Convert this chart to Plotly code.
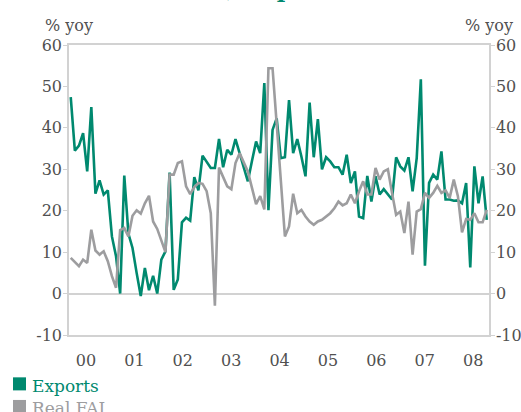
import plotly.graph_objects as go

# monthly yoy growth, Jan 2000 onward
exports = [
    47.4, 34.5, 35.7, 38.7, 29.5, 45.0, 24.1, 27.3, 23.9, 24.9, 13.8, 9.0,
    0.0, 28.5, 14.5, 11.0, 5.0, -0.6, 6.2, 0.8, 4.3, 0.0, 8.2, 10.2,
    29.2, 0.9, 3.4, 17.2, 18.3, 17.6, 28.1, 24.9, 33.3, 31.9, 30.3, 30.3,
    37.3, 30.5, 34.7, 33.5, 37.3, 33.9, 30.7, 27.1, 32.0, 36.7, 33.9, 50.8,
    20.1, 39.5, 42.3, 32.7, 32.9, 46.7, 33.9, 37.3, 33.1, 28.3, 46.1, 32.9,
    42.1, 30.0, 32.9, 31.9, 30.5, 30.5, 28.7, 33.5, 26.7, 29.5, 18.6, 18.2,
    28.4, 22.2, 28.3, 23.9, 25.2, 23.9, 22.7, 32.9, 30.7, 29.7, 32.9, 24.7,
    32.7, 51.7, 6.7, 26.7, 28.7, 27.5, 34.3, 22.7, 22.7, 22.4, 22.5, 21.8,
    26.7, 6.3, 30.7, 21.8, 28.3, 17.8,
]
real_fai = [
    8.6, 7.5, 6.6, 8.2, 7.4, 15.4, 10.4, 9.4, 10.2, 7.8, 4.2, 1.4,
    15.3, 15.8, 13.8, 18.8, 20.1, 19.3, 21.8, 23.6, 17.4, 15.6, 13.0, 10.0,
    28.7, 28.7, 31.5, 31.9, 25.9, 24.0, 25.7, 26.7, 26.5, 24.7, 19.4, -2.9,
    30.4, 28.3, 25.9, 25.2, 31.5, 33.9, 31.5, 29.5, 25.5, 21.6, 23.5, 20.3,
    54.4, 54.4, 41.0, 27.0, 13.8, 16.2, 24.1, 19.4, 20.2, 18.6, 17.4, 16.6,
    17.4, 17.8, 18.6, 19.4, 20.6, 22.2, 21.3, 21.8, 23.9, 21.8, 24.7, 27.1,
    23.9, 23.9, 30.3, 27.5, 29.5, 30.0, 24.3, 19.0, 19.8, 14.6, 22.2, 9.4,
    19.8, 20.4, 24.3, 23.1, 24.3, 26.0, 24.3, 24.9, 23.1, 27.5, 23.5, 14.8,
    18.0, 17.8, 19.4, 17.2, 17.2, 20.2,
]
year_labels = ["00", "01", "02", "03", "04", "05", "06", "07", "08"]
y_ticks = [-10, 0, 10, 20, 30, 40, 50, 60]

months = list(range(len(exports)))
year_pos = [3.7 + 11.75 * k for k in range(len(year_labels))]

TEAL = "#00896f"
GREY = "#9d9d9f"
AXIS = "#d2d2d2"
TXT = "#505050"
FONT = "DejaVu Serif"

fig = go.Figure()
fig.add_trace(go.Scatter(x=months, y=real_fai, mode="lines", yaxis="y2",
                         name="Real FAI", line=dict(color=GREY, width=2.6)))
fig.add_trace(go.Scatter(x=months, y=exports, mode="lines",
                         name="Exports", line=dict(color=TEAL, width=2.6)))

yax = dict(range=[-10, 60], tickvals=y_ticks,
           ticktext=[str(v) for v in y_ticks],  # plain hyphen, like the source
           showgrid=False, zeroline=True,
           zerolinecolor=AXIS, zerolinewidth=1.5, showline=True,
           linecolor=AXIS, linewidth=1.5, ticks="outside", ticklen=4,
           ticklabelstandoff=-2,
           tickcolor=AXIS, tickfont=dict(family=FONT, size=16, color=TXT))


def note(text, x, y, color=TXT, size=16, xanchor="center", yanchor="bottom"):
    return dict(text=text, xref="paper", yref="paper", x=x, y=y,
                xanchor=xanchor, yanchor=yanchor, showarrow=False,
                font=dict(family=FONT, size=size, color=color))


# legend keys drawn by hand (square swatch + coloured label)
legend_items = [("Exports", TEAL, -0.146), ("Real FAI", GREY, -0.224)]
shapes = []
annotations = [
    note("% yoy", 0.0, 1.026),
    note("% yoy", 1.0, 1.026),
    note("<b>Chart 1a) Exports and FAI</b>", 0.51, 1.14, TEAL, 23),
]
for name, col, top in legend_items:
    shapes.append(dict(type="rect", xref="paper", yref="paper",
                       x0=-0.1333, x1=-0.1024, y0=top - 0.045, y1=top,
                       fillcolor=col, line=dict(width=0)))
    annotations.append(note(name, -0.0929, top - 0.0293, col, 17,
                            xanchor="left", yanchor="middle"))

fig.update_layout(
    width=521, height=412,
    margin=dict(l=69, r=32, t=45, b=76.5, autoexpand=False),
    paper_bgcolor="white", plot_bgcolor="white",
    showlegend=False,
    xaxis=dict(range=[-0.42, 101.55], tickvals=year_pos, ticktext=year_labels,
               showgrid=False, zeroline=False, showline=True, mirror=True,
               linecolor=AXIS, linewidth=1.5, ticks="", ticklabelstandoff=10,
               tickfont=dict(family=FONT, size=16, color=TXT)),
    yaxis=yax,
    yaxis2=dict(yax, overlaying="y", side="right"),
    shapes=shapes,
    annotations=annotations,
)

# page body has a default 8px margin; drop it so the chart fills the window
fig.write_html("out.html", config={"displayModeBar": False},
               post_script="document.body.style.margin='0';")
